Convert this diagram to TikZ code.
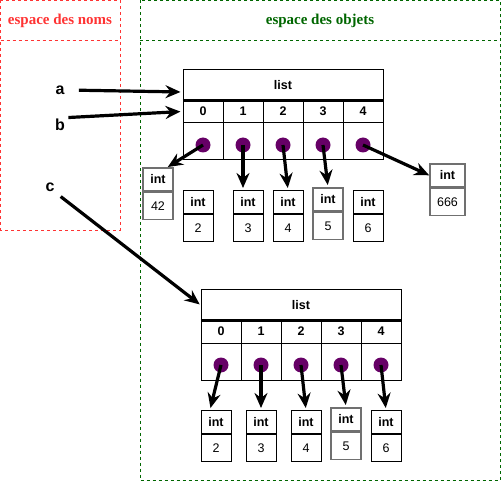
\documentclass[tikz,border=0pt]{standalone}
\usepackage{fontspec}
\setmainfont{Liberation Serif}
\setsansfont{Liberation Sans}
\usepackage{xcolor}
\usepackage{tikz}
\usetikzlibrary{positioning,arrows.meta}

\definecolor{nomred}{HTML}{FF3333}
\definecolor{objgreen}{HTML}{006600}
\definecolor{ptrpurple}{HTML}{660066}
\definecolor{boxgray}{HTML}{707070}

\tikzset{
  zone/.style={dashed, dash pattern=on 3pt off 3pt, line width=0.8pt},
  title/.style={font=\rmfamily\bfseries\fontsize{15}{17}\selectfont},
  varname/.style={font=\sffamily\bfseries\fontsize{16}{18}\selectfont, inner sep=1pt},
  listhead/.style={draw, minimum width=200pt, minimum height=30pt, inner sep=0pt,
    font=\sffamily\bfseries\fontsize{12.5}{14}\selectfont},
  idx/.style={draw, minimum width=40pt, minimum height=23pt, inner sep=0pt,
    font=\sffamily\bfseries\fontsize{12.5}{14}\selectfont},
  slot/.style={draw, minimum width=40pt, minimum height=37pt, inner sep=0pt},
  dot/.style={circle, fill=ptrpurple, minimum size=15pt, inner sep=0pt},
  inthead/.style={draw, minimum width=30pt, minimum height=23pt, inner sep=0pt,
    font=\sffamily\bfseries\fontsize{12.5}{14}\selectfont},
  intval/.style={draw, minimum width=30pt, minimum height=27pt, inner sep=0pt,
    font=\sffamily\fontsize{12.5}{14}\selectfont},
  grayed/.style={draw=boxgray, line width=1.6pt},
  ptr/.style={->, line width=3.2pt},
}

% boite int : nom, x, haut, valeur, style du bord
\newcommand{\intbox}[5]{%
  \node[inthead, #5, anchor=north] (#1h) at (#2,#3) {int};
  \node[intval, #5, below=0pt of #1h] (#1v) {#4};
}

\begin{document}
\begin{tikzpicture}[x=1pt, y=-1pt, line width=1pt,
    >={Stealth[length=15pt, width=13pt, inset=5pt]}]
  \useasboundingbox (0,0) rectangle (501,481);

  % espaces
  \draw[zone, nomred] (0.5,0.5) rectangle (120,230);
  \draw[zone, nomred] (0.5,40) -- (120,40);
  \node[title, text=nomred] (tnoms) at (60,21) {espace des noms};
  \draw[zone, objgreen] (140,0.5) rectangle (500,480);
  \draw[zone, objgreen] (140,40) -- (500,40);
  \node[title, text=objgreen] (tobjs) at (320,21) {espace des objets};

  % noms
  \node[varname] (na) at (60,90) {a};
  \node[varname] (nb) at (60,125) {b};
  \node[varname] (nc) at (50,187) {c};

  % premiere liste
  \node[listhead] (la) at (283,85) {list};
  \foreach \i in {0,...,4} {
    \node[idx] (ia\i) at ({203+40*\i},111.5) {\i};
    \node[slot] (sa\i) at ({203+40*\i},141.5) {};
    \node[dot] (da\i) at ({203+40*\i},145) {};
  }
  \draw[line width=2.2pt] (la.south west) -- (la.south east);

  \intbox{u42}{158}{167}{42}{grayed}
  \intbox{u2}{198}{190}{2}{draw}
  \intbox{u3}{248}{190}{3}{draw}
  \intbox{u4}{288}{190}{4}{draw}
  \intbox{u5}{328}{187}{5}{grayed}
  \intbox{u6}{368}{190}{6}{draw}
  \node[inthead, grayed, minimum width=35pt, anchor=north] (u666h) at (447.5,163) {int};
  \node[intval, grayed, minimum width=35pt, below=0pt of u666h] (u666v) {666};

  % deuxieme liste
  \node[listhead] (lb) at (301,305) {list};
  \foreach \i in {0,...,4} {
    \node[idx] (ib\i) at ({221+40*\i},331.5) {\i};
    \node[slot] (sb\i) at ({221+40*\i},361.5) {};
    \node[dot] (db\i) at ({221+40*\i},365) {};
  }
  \draw[line width=2.2pt] (lb.south west) -- (lb.south east);

  \intbox{w2}{216}{410}{2}{draw}
  \intbox{w3}{261}{410}{3}{draw}
  \intbox{w4}{306}{410}{4}{draw}
  \intbox{w5}{346}{407}{5}{grayed}
  \intbox{w6}{386}{410}{6}{draw}

  % references
  \draw[ptr, shorten <=13pt, shorten >=2pt] (na.east) -- ([yshift=-7pt]la.west);
  \draw[ptr, shorten <=2pt, shorten >=2pt] (nb.north east) -- (ia0.west);
  \draw[ptr, shorten <=6pt, shorten >=1pt] (nc.south east) -- (lb.west);

  \draw[ptr] (da0.center) -- ([xshift=-6pt]u42h.north east);
  \draw[ptr, shorten >=2pt] (da1.center) -- (da1.center |- u3h.north);
  \draw[ptr, shorten >=2pt] (da2.center) -- (u4h.north);
  \draw[ptr, shorten >=2pt] (da3.center) -- (u5h.north);
  \draw[ptr] (da4.center) -- (u666h.west);

  \draw[ptr, shorten >=2pt] (db0.center) -- ([xshift=-6pt]w2h.north);
  \draw[ptr, shorten >=2pt] (db1.center) -- (w3h.north);
  \draw[ptr, shorten >=2pt] (db2.center) -- (w4h.north);
  \draw[ptr, shorten >=2pt] (db3.center) -- (w5h.north);
  \draw[ptr, shorten >=2pt] (db4.center) -- (w6h.north);
\end{tikzpicture}
\end{document}
